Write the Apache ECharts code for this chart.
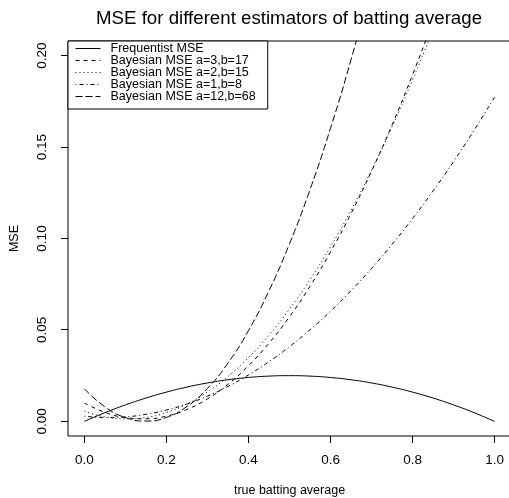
<!DOCTYPE html>
<html>
<head>
<meta charset="utf-8">
<script src="https://cdn.jsdelivr.net/npm/echarts@6/dist/echarts.min.js"></script>
<style>
  html, body { margin: 0; padding: 0; background: #fff; }
  #chart { width: 509px; height: 498px; }
</style>
</head>
<body>
<div id="chart"></div>
<script>
// true batting average, step 0.05
const pValues = [0, 0.05, 0.1, 0.15, 0.2, 0.25, 0.3, 0.35, 0.4, 0.45, 0.5,
  0.55, 0.6, 0.65, 0.7, 0.75, 0.8, 0.85, 0.9, 0.95, 1];

// MSE
const freqMSE = [0, 0.00475, 0.009, 0.01275, 0.016, 0.01875, 0.021, 0.02275, 0.024, 0.02475, 0.025,
  0.02475, 0.024, 0.02275, 0.021, 0.01875, 0.016, 0.01275, 0.009, 0.00475, 0];
const bayes3_17 = [0.0100, 0.00497, 0.00211, 0.00142, 0.00289, 0.00653, 0.01233, 0.02031, 0.03044, 0.04275, 0.05722,
  0.07386, 0.09267, 0.11364, 0.13678, 0.16208, 0.18956, 0.21919, 0.2510, 0.28497, 0.32111];
const bayes2_15 = [0.00549, 0.00247, 0.00136, 0.00216, 0.00488, 0.00952, 0.01606, 0.02452, 0.0349, 0.04718, 0.06139,
  0.0775, 0.09553, 0.11547, 0.13733, 0.16109, 0.18678, 0.21437, 0.24388, 0.27531, 0.30864];
const bayes1_8 = [0.00277, 0.00215, 0.00252, 0.00387, 0.00621, 0.00952, 0.01382, 0.01911, 0.02537, 0.03263, 0.04086,
  0.05008, 0.06028, 0.07146, 0.08363, 0.09678, 0.11091, 0.12603, 0.14213, 0.15922, 0.17729];
const bayes12_68 = [0.01778, 0.00796, 0.00209, 0.00016, 0.00217, 0.00813, 0.01804, 0.03189, 0.04968, 0.07142, 0.0971,
  0.12673, 0.1603, 0.19781, 0.23927, 0.28468];

const xTicks = [0, 0.2, 0.4, 0.6, 0.8, 1.0];
const yTicks = [0, 0.05, 0.1, 0.15, 0.2];

const seriesNames = ['Frequentist MSE', 'Bayesian MSE a=3,b=17', 'Bayesian MSE a=2,b=15',
  'Bayesian MSE a=1,b=8', 'Bayesian MSE a=12,b=68'];
const seriesValues = [freqMSE, bayes3_17, bayes2_15, bayes1_8, bayes12_68];
const dashes = ['solid', [4, 4], [1, 3], [1, 3, 4, 3], [7, 3]];

const font = 'Liberation Sans, Arial, sans-serif';
const box = { left: 68, top: 41, width: 443, height: 395 };
const xRange = [-0.04, 1.04];
const yRange = [-0.008, 0.208];
const tickLen = 7;

const chart = echarts.init(document.getElementById('chart'));

chart.setOption({
  animation: false,
  title: {
    text: 'MSE for different estimators of batting average',
    left: 284,
    top: 4,
    textAlign: 'center',
    textStyle: { fontFamily: font, fontSize: 18.7, fontWeight: 'normal', color: '#000' }
  },
  legend: {
    orient: 'vertical',
    left: 68,
    top: 41,
    padding: [1, 12, 6, 7],
    itemGap: -1,
    itemWidth: 25,
    itemHeight: 12,
    borderColor: '#000',
    borderWidth: 1,
    borderRadius: 0,
    backgroundColor: '#fff',
    selectedMode: false,
    itemStyle: { opacity: 0, borderWidth: 0 },
    lineStyle: { width: 1 },
    textStyle: { fontFamily: font, fontSize: 12.5, lineHeight: 12, color: '#000', padding: [0, 0, 0, 5] },
    data: seriesNames
  },
  // plot box, with the range padded by 4% like R does
  grid: Object.assign({ outerBoundsMode: 'none', show: true, borderColor: '#000', borderWidth: 1 }, box),
  xAxis: {
    type: 'value',
    min: xRange[0],
    max: xRange[1],
    name: 'true batting average',
    nameLocation: 'middle',
    nameGap: 48,
    nameTextStyle: { fontFamily: font, fontSize: 12.5, color: '#000' },
    axisLine: { show: false, onZero: false },
    axisTick: { show: false },
    axisLabel: {
      customValues: xTicks,
      margin: 17,
      fontFamily: font, fontSize: 13.5, color: '#000',
      formatter: v => v.toFixed(1)
    },
    splitLine: { show: false }
  },
  yAxis: {
    type: 'value',
    min: yRange[0],
    max: yRange[1],
    name: 'MSE',
    nameLocation: 'middle',
    nameRotate: 90,
    nameGap: 47,
    nameTextStyle: { fontFamily: font, fontSize: 12.5, color: '#000' },
    axisLine: { show: false, onZero: false },
    axisTick: { show: false },
    axisLabel: {
      customValues: yTicks,
      rotate: 90,
      margin: 19,
      fontFamily: font, fontSize: 13.5, color: '#000',
      formatter: v => v.toFixed(2)
    },
    splitLine: { show: false }
  },
  series: seriesNames.map((name, i) => ({
    name: name,
    type: 'line',
    smooth: true,
    symbol: 'none',
    clip: true,
    data: seriesValues[i].map((v, j) => [pValues[j], v]),
    lineStyle: { color: '#000', width: 1, type: dashes[i] },
    itemStyle: { color: '#000' }
  }))
});

// tick marks outside the box
function toPx(dim, v) {
  const p = chart.convertToPixel(dim === 'x' ? { xAxisIndex: 0 } : { yAxisIndex: 0 }, v);
  const n = Array.isArray(p) ? p[dim === 'x' ? 0 : 1] : p;
  if (isFinite(n)) return n;
  return dim === 'x'
    ? box.left + (v - xRange[0]) / (xRange[1] - xRange[0]) * box.width
    : box.top + box.height - (v - yRange[0]) / (yRange[1] - yRange[0]) * box.height;
}
const snap = p => Math.round(p - 0.5) + 0.5;
const bottom = box.top + box.height;
const ticks = [];
xTicks.forEach(v => {
  const x = snap(toPx('x', v));
  ticks.push({ type: 'line', z: 100, silent: true,
    shape: { x1: x, y1: bottom, x2: x, y2: bottom + tickLen },
    style: { stroke: '#000', lineWidth: 1 } });
});
yTicks.forEach(v => {
  const y = snap(toPx('y', v));
  ticks.push({ type: 'line', z: 100, silent: true,
    shape: { x1: box.left, y1: y, x2: box.left - tickLen, y2: y },
    style: { stroke: '#000', lineWidth: 1 } });
});
chart.setOption({ graphic: { elements: ticks } });
</script>
</body>
</html>
